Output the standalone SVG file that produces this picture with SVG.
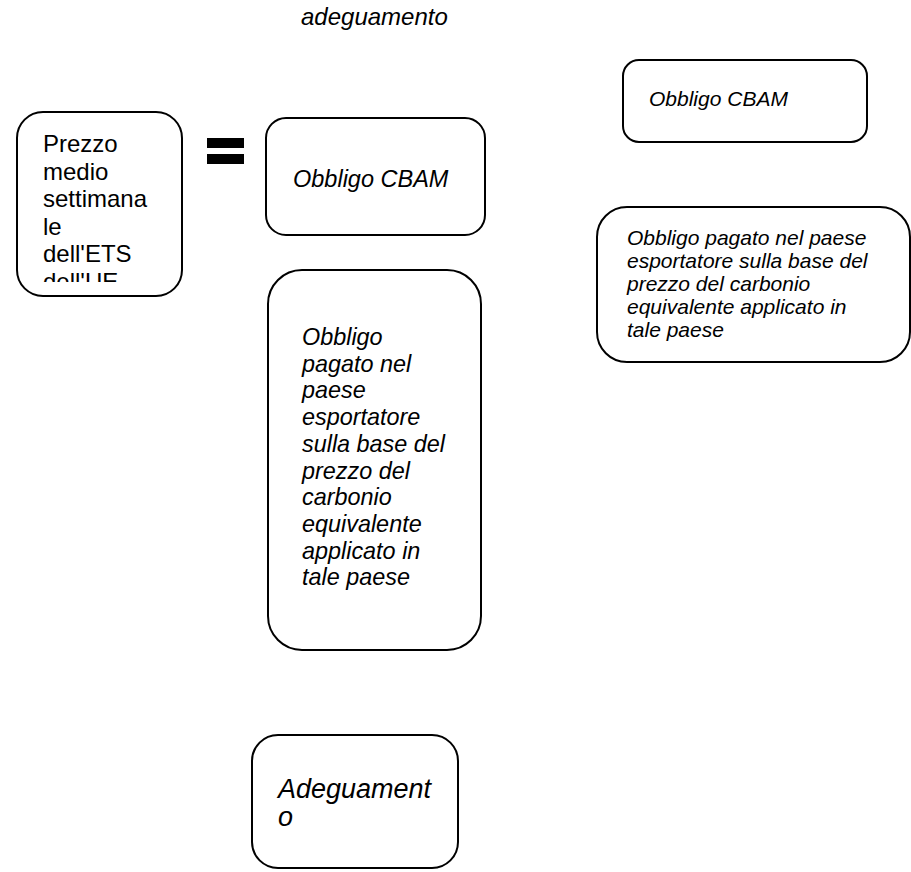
<svg xmlns="http://www.w3.org/2000/svg" width="911" height="872" viewBox="0 0 911 872">
<style>
.box{fill:#fff;stroke:#000;stroke-width:2}
.t{font-family:"Liberation Sans",Arial,sans-serif;fill:#000}
.i{font-style:italic}
</style>
<defs>
<clipPath id="c1"><rect x="17" y="112" width="165" height="170"/></clipPath>
</defs>
<rect width="911" height="872" fill="#fff"/>
<g id="title">
<text class="t i" x="301" y="25" font-size="24">adeguamento</text>
</g>
<g id="prezzo">
<rect class="box" x="17" y="112" width="165" height="184" rx="26"/>
<text class="t" font-size="24" clip-path="url(#c1)">
<tspan x="43" y="152">Prezzo</tspan>
<tspan x="43" y="179.5">medio</tspan>
<tspan x="43" y="207">settimana</tspan>
<tspan x="43" y="234.5">le</tspan>
<tspan x="43" y="262">dell'ETS</tspan>
<tspan x="43" y="289.5">dell'UE</tspan>
</text>
</g>
<g id="equals">
<rect x="207" y="138" width="37" height="10" fill="#000"/>
<rect x="207" y="154" width="37" height="10" fill="#000"/>
</g>
<g id="cbam1">
<rect class="box" x="266" y="118" width="219" height="117" rx="20"/>
<text class="t i" x="293" y="187" font-size="23.5">Obbligo CBAM</text>
</g>
<g id="cbam2">
<rect class="box" x="623" y="60" width="244" height="82" rx="16"/>
<text class="t i" x="649" y="106" font-size="21">Obbligo CBAM</text>
</g>
<g id="paid2">
<rect class="box" x="597" y="207" width="313" height="155" rx="30"/>
<text class="t i" font-size="21">
<tspan x="627" y="245">Obbligo pagato nel paese</tspan>
<tspan x="627" y="268">esportatore sulla base del</tspan>
<tspan x="627" y="291">prezzo del carbonio</tspan>
<tspan x="627" y="314">equivalente applicato in</tspan>
<tspan x="627" y="337">tale paese</tspan>
</text>
</g>
<g id="paid1">
<rect class="box" x="268" y="270" width="213" height="380" rx="34"/>
<text class="t i" font-size="23.4">
<tspan x="302" y="345">Obbligo</tspan>
<tspan x="302" y="371.7">pagato nel</tspan>
<tspan x="302" y="398.4">paese</tspan>
<tspan x="302" y="425.1">esportatore</tspan>
<tspan x="302" y="451.8">sulla base del</tspan>
<tspan x="302" y="478.5">prezzo del</tspan>
<tspan x="302" y="505.2">carbonio</tspan>
<tspan x="302" y="531.9">equivalente</tspan>
<tspan x="302" y="558.6">applicato in</tspan>
<tspan x="302" y="585.3">tale paese</tspan>
</text>
</g>
<g id="adeg">
<rect class="box" x="252" y="735" width="206" height="133" rx="26"/>
<text class="t i" font-size="27">
<tspan x="278" y="798">Adeguament</tspan>
<tspan x="278" y="826">o</tspan>
</text>
</g>
<g id="connectors"></g>
</svg>
